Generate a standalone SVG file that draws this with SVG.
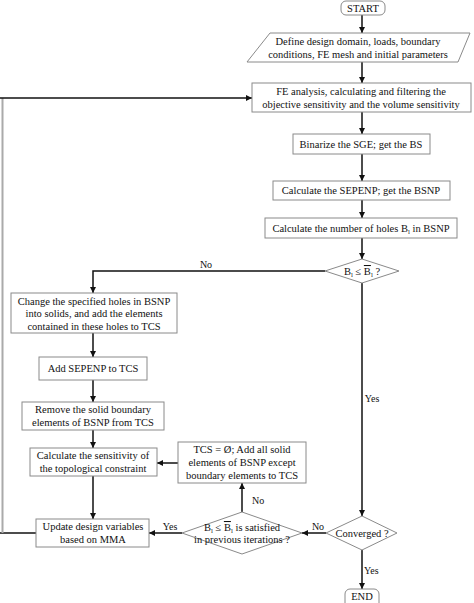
<svg xmlns="http://www.w3.org/2000/svg" width="474" height="603" viewBox="0 0 474 603" font-family="'Liberation Serif', 'Times New Roman', 'DejaVu Serif', serif">
<style>
text{font-family:"Liberation Serif","Times New Roman","DejaVu Serif",serif;font-size:10.5px;fill:#111;text-anchor:middle}
.box{fill:#fff;stroke:#8a8a8a;stroke-width:1}
.ln{fill:none;stroke:#111;stroke-width:1.5}
.lbl{font-size:10px}
.sub{font-size:7px}
</style>
<defs>
<marker id="ah" viewBox="0 0 10 10" refX="10" refY="5" markerWidth="6" markerHeight="6" orient="auto" markerUnits="userSpaceOnUse">
<path d="M0,0 L10,5 L0,10 z" fill="#111"/>
</marker>
</defs>
<rect width="474" height="603" fill="#fff"/>
<g id="connectors">
<line class="ln" x1="362" y1="14" x2="362" y2="33" marker-end="url(#ah)"/>
<line class="ln" x1="362" y1="62" x2="362" y2="83" marker-end="url(#ah)"/>
<line class="ln" x1="362" y1="112" x2="362" y2="134" marker-end="url(#ah)"/>
<line class="ln" x1="362" y1="154" x2="362" y2="181" marker-end="url(#ah)"/>
<line class="ln" x1="362" y1="200" x2="362" y2="218" marker-end="url(#ah)"/>
<line class="ln" x1="362" y1="238" x2="362" y2="259" marker-end="url(#ah)"/>
<polyline class="ln" points="325,271 93,271 93,293" marker-end="url(#ah)"/>
<line class="ln" x1="93" y1="333" x2="93" y2="357" marker-end="url(#ah)"/>
<line class="ln" x1="93" y1="380" x2="93" y2="402" marker-end="url(#ah)"/>
<line class="ln" x1="93" y1="430" x2="93" y2="448" marker-end="url(#ah)"/>
<line class="ln" x1="93" y1="476" x2="93" y2="519" marker-end="url(#ah)"/>
<line class="ln" x1="362" y1="283" x2="362" y2="516" marker-end="url(#ah)"/>
<line class="ln" x1="326" y1="533" x2="302" y2="533" marker-end="url(#ah)"/>
<line class="ln" x1="182" y1="533" x2="149" y2="533" marker-end="url(#ah)"/>
<line class="ln" x1="242" y1="512" x2="242" y2="483" marker-end="url(#ah)"/>
<line class="ln" x1="178" y1="463" x2="157" y2="463" marker-end="url(#ah)"/>
<line class="ln" x1="362" y1="550" x2="362" y2="589" marker-end="url(#ah)"/>
<line class="ln" x1="36" y1="533" x2="0" y2="533"/>
<line x1="2.5" y1="98" x2="2.5" y2="533" stroke="#aaa" stroke-width="2"/>
<line class="ln" x1="0" y1="98" x2="252" y2="98" marker-end="url(#ah)"/>
<text class="lbl" x="206" y="268">No</text>
<text class="lbl" x="372" y="402">Yes</text>
<text class="lbl" x="318" y="530">No</text>
<text class="lbl" x="170" y="530">Yes</text>
<text class="lbl" x="252" y="504" style="text-anchor:start">No</text>
<text class="lbl" x="364" y="574" style="text-anchor:start">Yes</text>
</g>
<g id="start">
<rect class="box" x="341" y="1" width="44" height="14" rx="5"/>
<text x="363" y="12">START</text>
</g>
<g id="define">
<polygon class="box" points="270,33 470,33 458,62 247,62"/>
<text x="358" y="45">Define design domain, loads, boundary</text>
<text x="358" y="58">conditions, FE mesh and initial parameters</text>
</g>
<g id="fe">
<rect class="box" x="252" y="83" width="219" height="29"/>
<text x="361" y="95">FE analysis, calculating and filtering the</text>
<text x="361" y="108">objective sensitivity and the volume sensitivity</text>
</g>
<g id="binarize">
<rect class="box" x="293" y="134" width="137" height="20"/>
<text x="361" y="148">Binarize the SGE; get the BS</text>
</g>
<g id="sepenp">
<rect class="box" x="273" y="181" width="177" height="19"/>
<text x="361" y="194">Calculate the SEPENP; get the BSNP</text>
</g>
<g id="holes">
<rect class="box" x="265" y="218" width="192" height="20"/>
<text x="361" y="232">Calculate the number of holes B<tspan class="sub" dy="2">l</tspan><tspan dy="-2"> in BSNP</tspan></text>
</g>
<g id="dec1">
<polygon class="box" points="362,259 399,271 362,283 325,271"/>
<text x="362" y="275">B<tspan class="sub" dy="2">l</tspan><tspan dy="-2"> ≤ </tspan><tspan text-decoration="overline">B</tspan><tspan class="sub" dy="2">l</tspan><tspan dy="-2"> ?</tspan></text>
</g>
<g id="change">
<rect class="box" x="11" y="293" width="166" height="40"/>
<text x="94" y="305">Change the specified holes in BSNP</text>
<text x="94" y="317">into solids, and add the elements</text>
<text x="94" y="330">contained in these holes to TCS</text>
</g>
<g id="addsepenp">
<rect class="box" x="39" y="357" width="108" height="23"/>
<text x="93" y="372">Add SEPENP to TCS</text>
</g>
<g id="remove">
<rect class="box" x="22" y="402" width="142" height="28"/>
<text x="93" y="413">Remove the solid boundary</text>
<text x="93" y="426">elements of BSNP from TCS</text>
</g>
<g id="calcsens">
<rect class="box" x="30" y="448" width="127" height="28"/>
<text x="93" y="459">Calculate the sensitivity of</text>
<text x="93" y="472">the topological constraint</text>
</g>
<g id="update">
<rect class="box" x="36" y="519" width="113" height="28"/>
<text x="93" y="530">Update design variables</text>
<text x="93" y="543">based on MMA</text>
</g>
<g id="tcs">
<rect class="box" x="178" y="442" width="128" height="41"/>
<text x="242" y="453">TCS = Ø; Add all solid</text>
<text x="242" y="466">elements of BSNP except</text>
<text x="242" y="479">boundary elements to TCS</text>
</g>
<g id="dec2">
<polygon class="box" points="242,512 302,533 242,554 182,533"/>
<text x="242" y="531">B<tspan class="sub" dy="2">l</tspan><tspan dy="-2"> ≤ </tspan><tspan text-decoration="overline">B</tspan><tspan class="sub" dy="2">l</tspan><tspan dy="-2"> is satisfied</tspan></text>
<text x="242" y="543">in previous iterations ?</text>
</g>
<g id="converged">
<polygon class="box" points="362,516 397,533 362,550 326,533"/>
<text x="362" y="537">Converged ?</text>
</g>
<g id="end">
<rect class="box" x="345" y="589" width="34" height="20" rx="5"/>
<text x="362" y="600">END</text>
</g>
</svg>
